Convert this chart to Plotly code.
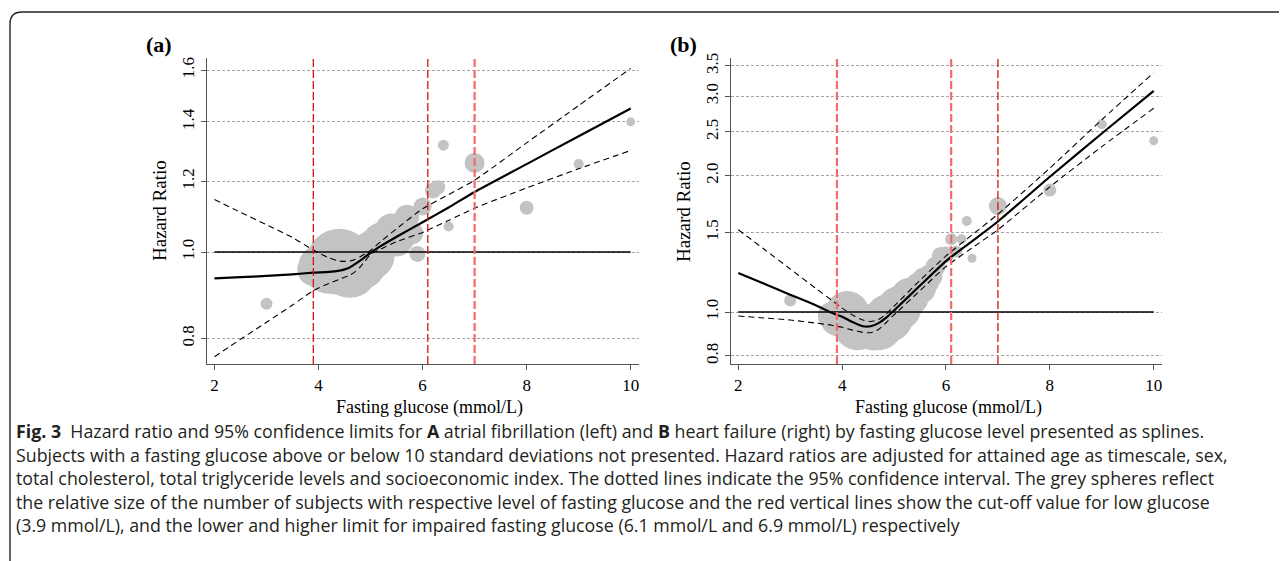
import numpy as np
import plotly.graph_objects as go

# ---------------- Panel A : atrial fibrillation ----------------
grid_a = [2.0, 2.5, 3.0, 3.5, 3.9, 4.2, 4.4, 4.5, 4.6, 4.7, 4.8, 4.9, 5.0,
          5.2, 5.5, 6.0, 6.5, 7.0, 8.0, 9.0, 10.0]
hr_a = [0.934, 0.937, 0.940, 0.944, 0.948, 0.950, 0.953, 0.956, 0.961, 0.969,
        0.978, 0.988, 0.998, 1.016, 1.040, 1.080, 1.122, 1.168, 1.255, 1.349, 1.449]
upper_a = [1.145, 1.108, 1.073, 1.038, 1.005, 0.985, 0.977, 0.976, 0.977, 0.981,
           0.988, 0.996, 1.004, 1.028, 1.062, 1.118, 1.160, 1.204, 1.326, 1.460, 1.607]
lower_a = [0.763, 0.798, 0.834, 0.872, 0.905, 0.922, 0.932, 0.937, 0.942, 0.950,
           0.962, 0.978, 0.994, 1.008, 1.027, 1.052, 1.085, 1.120, 1.180, 1.240, 1.300]

obs_x_a = [3.0, 3.9, 4.0, 4.2, 4.4, 4.6, 4.8, 5.0, 5.1, 5.2, 5.4, 5.5, 5.6, 5.7,
           5.8, 5.9, 6.0, 6.2, 6.3, 6.4, 6.5, 7.0, 8.0, 9.0, 10.0]
obs_hr_a = [0.875, 0.955, 0.965, 0.960, 0.975, 0.955, 0.970, 0.990, 1.010, 1.030,
            1.060, 1.030, 1.040, 1.095, 1.050, 0.995, 1.125, 1.172, 1.182, 1.318,
            1.068, 1.259, 1.121, 1.255, 1.400]
subjects_a = [36, 256, 400, 676, 1089, 784, 676, 576, 400, 324, 256, 256, 196, 150,
              121, 64, 81, 64, 49, 30, 25, 100, 49, 25, 20]
cutoffs_a = [3.9, 6.1, 7.0]

# ---------------- Panel B : heart failure ----------------
grid_b = [2.0, 2.5, 3.0, 3.5, 3.8, 4.0, 4.2, 4.4, 4.55, 4.7, 4.85, 5.0, 5.5,
          6.0, 6.5, 7.0, 8.0, 9.0, 10.0]
hr_b = [1.220, 1.155, 1.092, 1.034, 0.996, 0.976, 0.950, 0.930, 0.930, 0.945,
        0.972, 1.008, 1.144, 1.296, 1.433, 1.585, 1.990, 2.480, 3.080]
upper_b = [1.520, 1.376, 1.245, 1.126, 1.061, 1.020, 0.985, 0.960, 0.953, 0.962,
           0.990, 1.030, 1.175, 1.330, 1.480, 1.645, 2.080, 2.660, 3.380]
lower_b = [0.980, 0.970, 0.960, 0.945, 0.935, 0.925, 0.912, 0.902, 0.900, 0.915,
           0.948, 0.985, 1.115, 1.260, 1.385, 1.520, 1.890, 2.320, 2.820]

obs_x_b = [3.0, 3.8, 3.9, 4.1, 4.3, 4.6, 4.7, 4.9, 5.1, 5.3, 5.5, 5.6, 5.7, 5.8,
           5.9, 6.0, 6.1, 6.2, 6.3, 6.4, 6.5, 7.0, 8.0, 9.0, 10.0]
obs_hr_b = [1.060, 0.980, 0.960, 0.995, 0.930, 0.920, 0.930, 0.970, 1.020, 1.080,
            1.130, 1.170, 1.200, 1.260, 1.330, 1.340, 1.448, 1.360, 1.448, 1.589,
            1.314, 1.715, 1.860, 2.600, 2.390]
subjects_b = [36, 196, 256, 484, 576, 484, 576, 576, 484, 361, 256, 196, 144, 100,
              81, 64, 36, 36, 25, 25, 20, 81, 42, 25, 20]
cutoffs_b = [3.9, 6.1, 7.0]

ref_hr = 1.0
x_ticks = [2, 4, 6, 8, 10]
y_ticks_a = [0.8, 1.0, 1.2, 1.4, 1.6]
y_ticks_b = [0.8, 1.0, 1.5, 2.0, 2.5, 3.0, 3.5]

# the page body has an 8px default margin: lay out in window pixels, then shift
OFF = 8
W, H = 1287 - OFF, 561 - OFF


def px(x):
    return (x - OFF) / W


def py(y):
    return 1 - (y - OFF) / H


SERIF = "Liberation Serif, Times New Roman, serif"
SANS = "Open Sans, Noto Sans, sans-serif"
BUBBLE = "#c3c3c3"
MAX_D = 66  # diameter of largest bubble (px)

fig = go.Figure()
sref = 2 * max(max(subjects_a), max(subjects_b)) / MAX_D ** 2


def add_panel(xa, ya, grid, hr, up, lo, ox, oy, n):
    fig.add_trace(go.Scatter(
        x=ox, y=oy, mode="markers", xaxis=xa, yaxis=ya,
        marker=dict(size=n, sizemode="area", sizeref=sref, color=BUBBLE,
                    line=dict(width=0), opacity=1),
        hoverinfo="skip", showlegend=False))
    fig.add_trace(go.Scatter(
        x=[min(x_ticks), max(x_ticks)], y=[ref_hr, ref_hr], mode="lines",
        xaxis=xa, yaxis=ya, line=dict(color="black", width=1.4),
        hoverinfo="skip", showlegend=False))
    for ci in (up, lo):
        fig.add_trace(go.Scatter(
            x=grid, y=ci, mode="lines", xaxis=xa, yaxis=ya,
            line=dict(color="black", width=1.1, dash="6px,4px", shape="spline",
                      smoothing=0.6),
            hoverinfo="skip", showlegend=False))
    fig.add_trace(go.Scatter(
        x=grid, y=hr, mode="lines", xaxis=xa, yaxis=ya,
        line=dict(color="black", width=2.2, shape="spline", smoothing=0.6),
        hoverinfo="skip", showlegend=False))


add_panel("x", "y", grid_a, hr_a, upper_a, lower_a, obs_x_a, obs_hr_a, subjects_a)
add_panel("x2", "y2", grid_b, hr_b, upper_b, lower_b, obs_x_b, obs_hr_b, subjects_b)

DARK_RED = "#dd1111"
LIGHT_RED = "#f26a6a"
styles_a = [(DARK_RED, 1.3), (DARK_RED, 1.3), (LIGHT_RED, 2.2)]
styles_b = [(LIGHT_RED, 2.2), (LIGHT_RED, 2.2), (DARK_RED, 1.3)]
for xr, cuts, sty in (("x", cutoffs_a, styles_a), ("x2", cutoffs_b, styles_b)):
    yr = "y domain" if xr == "x" else "y2 domain"
    for c, (col, w) in zip(cuts, sty):
        fig.add_shape(type="line", xref=xr, yref=yr, x0=c, x1=c, y0=0, y1=1,
                      line=dict(color=col, width=w, dash="8px,3px"), layer="above")

# frame with rounded top-left corner
fx, fy, rad = px(10), py(12), 12
fig.add_shape(type="path", xref="paper", yref="paper",
              path=(f"M {fx},0 L {fx},{fy - rad / H} Q {fx},{fy} {fx + rad / W},{fy} "
                    f"L 1,{fy}"),
              line=dict(color="#222", width=1.4))

ydom = [py(364), py(58)]
axis_common = dict(showline=True, linecolor="#555", linewidth=1.3, ticks="outside",
                   ticklen=5, tickcolor="#555",
                   tickfont=dict(family=SERIF, size=17, color="black"),
                   zeroline=False, mirror=False)

fig.update_layout(
    width=W, height=H, margin=dict(l=0, r=0, t=0, b=0, autoexpand=False),
    paper_bgcolor="white", plot_bgcolor="white", showlegend=False,
    xaxis=dict(domain=[px(207), px(639)], range=[1.856, 10.16], tickvals=x_ticks,
               showgrid=False, anchor="y", **axis_common),
    yaxis=dict(domain=ydom, type="log", range=[np.log10(0.7487), np.log10(1.651)],
               tickvals=y_ticks_a, ticktext=[f"{v:.1f}" for v in y_ticks_a],
               tickangle=-90, showgrid=True, gridcolor="#a5a5a5", gridwidth=1.2,
               griddash="3px,2px", anchor="x", **axis_common),
    xaxis2=dict(domain=[px(731), px(1161.5)], range=[1.86, 10.15], tickvals=x_ticks,
                showgrid=False, anchor="y2", **axis_common),
    yaxis2=dict(domain=ydom, type="log", range=[np.log10(0.7675), np.log10(3.642)],
                tickvals=y_ticks_b, ticktext=[f"{v:.1f}" for v in y_ticks_b],
                tickangle=-90, showgrid=True, gridcolor="#a5a5a5", gridwidth=1.2,
                griddash="3px,2px", anchor="x2", **axis_common),
)

ann = []
for cx, lab in ((159, "(a)"), (683, "(b)")):
    ann.append(dict(x=px(cx), y=py(45), xref="paper", yref="paper", text=f"<b>{lab}</b>",
                    xanchor="center", yanchor="middle", showarrow=False,
                    font=dict(family=SERIF, size=22, color="black")))
for cx in (430, 948):
    ann.append(dict(x=px(cx), y=py(407), xref="paper", yref="paper",
                    xanchor="center", yanchor="middle",
                    text="Fasting glucose (mmol/L)", showarrow=False,
                    font=dict(family=SERIF, size=18, color="black")))
for cx in (160, 684):
    ann.append(dict(x=px(cx), y=(ydom[0] + ydom[1]) / 2, xref="paper", yref="paper",
                    xanchor="center", yanchor="middle",
                    text="Hazard Ratio", textangle=-90, showarrow=False,
                    font=dict(family=SERIF, size=19, color="black")))

caption = [
    "<b>Fig. 3</b>  Hazard ratio and 95% confidence limits for <b>A</b> atrial fibrillation (left) and <b>B</b> heart failure (right) by fasting glucose level presented as splines.",
    "Subjects with a fasting glucose above or below 10 standard deviations not presented. Hazard ratios are adjusted for attained age as timescale, sex,",
    "total cholesterol, total triglyceride levels and socioeconomic index. The dotted lines indicate the 95% confidence interval. The grey spheres reflect",
    "the relative size of the number of subjects with respective level of fasting glucose and the red vertical lines show the cut-off value for low glucose",
    "(3.9 mmol/L), and the lower and higher limit for impaired fasting glucose (6.1 mmol/L and 6.9 mmol/L) respectively",
]
for i, line in enumerate(caption):
    ann.append(dict(x=px(14), y=py(431 + 23.5 * i), xref="paper", yref="paper",
                    xanchor="left", yanchor="middle", text=line, showarrow=False,
                    font=dict(family=SANS, size=17.8, color="#231f20")))
fig.update_layout(annotations=ann)

fig.write_html("out.html")
